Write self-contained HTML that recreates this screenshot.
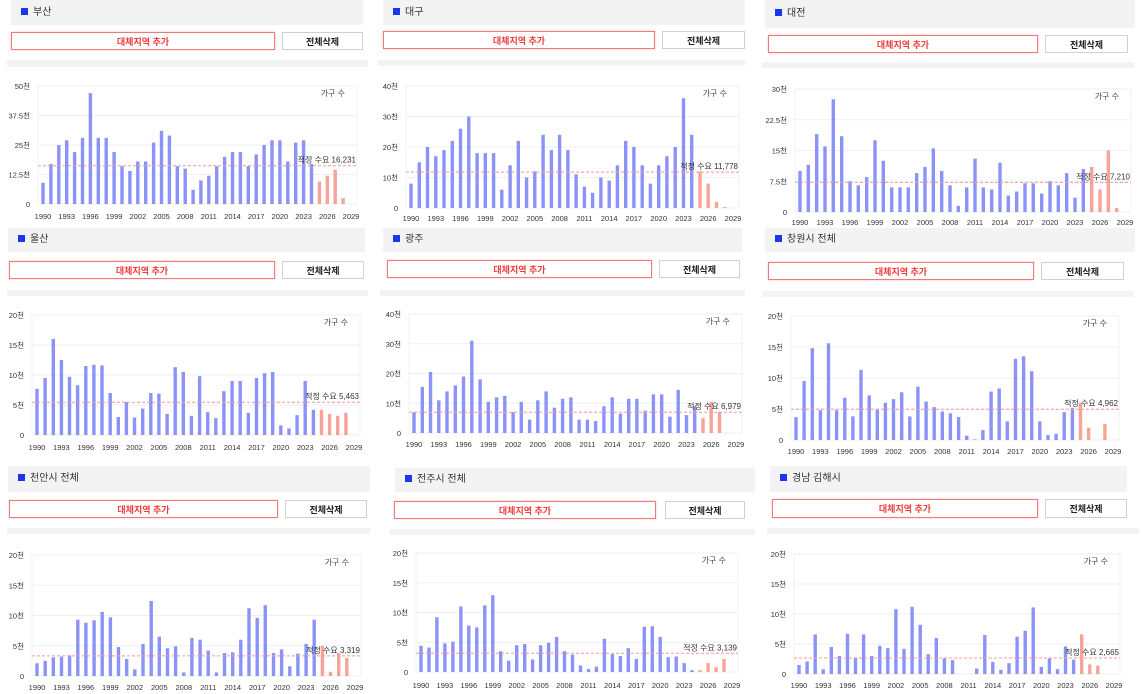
<!DOCTYPE html>
<html><head><meta charset="utf-8">
<style>
body{margin:0;width:1143px;height:694px;background:#fff;position:relative;overflow:hidden;font-family:"Liberation Sans","Noto Sans CJK KR",sans-serif;}
.hd{position:absolute;background:#f3f3f3;font-size:10px;color:#333;}
.hd span.sq{display:inline-block;width:7px;height:7px;background:#1b35f0;margin:0 5px 0 10px;vertical-align:-0px;}
.br{position:absolute;border:1.5px solid #f07a7a;box-sizing:border-box;color:#f03c3c;font-weight:bold;font-size:9px;text-align:center;background:#fff;box-shadow:0 0 2px #f9c0c0;}
.bg{position:absolute;border:1px solid #d0d0d0;box-sizing:border-box;color:#222;font-weight:bold;font-size:9px;text-align:center;background:#fff;}
.st{position:absolute;background:#f3f3f3;}
svg{position:absolute;left:0;top:0;}
</style></head><body>
<div id="root"></div>
<svg id="sv" width="1143" height="694" xmlns="http://www.w3.org/2000/svg"></svg>
<script>
var P=[
{t:"부산",h:[11,0,352,25],r:[11,32,264,18],g:[282,32,81,18],s:[7,60,361,7],x0:43,x1:351,yT:86,yB:204,ly:216,max:50,tk:["0","12.5천","25천","37.5천","50천"],ref:16.231,rl:"적정 수요 16,231",
d:[9,17,25,27,22,28,47,28,28,22,16,14,18,18,26,31,29,16,15,6,10,12,16,20,22,22,16,21,25,27,27,18,26,27,17],p:[9.5,12,14.5,2.5,0]},
{t:"대구",h:[383,0,362,25],r:[383,31,272,18],g:[662,31,83,18],s:[378,60,367,6],x0:411,x1:733,yT:86,yB:208,ly:218,max:40,tk:["0","10천","20천","30천","40천"],ref:11.778,rl:"적정 수요 11,778",
d:[8,15,20,17,19,22,26,30,18,18,18,6,14,22,10,12,24,19,24,19,11,7,5,10,9,14,22,20,14,8,14,17,20,36,24],p:[12,8,2,0.3,0]},
{t:"대전",h:[765,0,370,28],r:[768,35,270,18],g:[1045,35,83,18],s:[762,62,372,6],x0:800,x1:1125,yT:89,yB:212,ly:222,max:30,tk:["0","7.5천","15천","22.5천","30천"],ref:7.21,rl:"적정 수요 7,210",
d:[10,11.5,19,16,27.5,18.5,7.5,6.5,8.5,17.5,12.5,6,6,6,9.5,11,15.5,10,6.5,1.5,6,13,6,5.5,12,4,5,7,7,4.5,7.5,6.5,9.5,3.5,10.5],p:[11,5.5,15,1,0]},
{t:"울산",h:[8,228,357,24],r:[9,261,266,18],g:[282,261,82,18],s:[7,290,361,6],x0:37,x1:354,yT:315,yB:435,ly:447,max:20,tk:["0","5천","10천","15천","20천"],ref:5.463,rl:"적정 수요 5,463",
d:[7.7,9.5,16,12.5,9.7,8.3,11.5,11.7,11.6,7,3,5.5,2.9,4.4,7,6.9,3.5,11.3,10.5,3.2,9.8,3.8,2.8,7.3,9,9,3.7,9.5,10.3,10.5,1.6,1.1,3.3,9,4.2],p:[4.2,3.5,3.2,3.7,0]},
{t:"광주",h:[383,228,359,24],r:[387,260,265,18],g:[659,260,81,18],s:[380,290,365,6],x0:414,x1:736,yT:314,yB:433,ly:444,max:40,tk:["0","10천","20천","30천","40천"],ref:6.979,rl:"적정 수요 6,979",
d:[7,15.5,20.5,11,14,16,19,31,18,10.5,12,12.5,7,10.5,4.5,11,14,8.5,11.5,12,4.5,4.5,4,9,12,6.5,11.5,11.5,7.5,13,13,5.5,14.5,6,9],p:[5,10.5,7,0,0]},
{t:"창원시 전체",h:[765,228,370,24],r:[768,262,266,18],g:[1041,262,83,18],s:[762,291,372,6],x0:796,x1:1113,yT:316,yB:440,ly:451,max:20,tk:["0","5천","10천","15천","20천"],ref:4.962,rl:"적정 수요 4,962",
d:[3.7,9.5,14.8,4.8,15.6,4.8,6.8,3.8,11.3,7.2,4.9,6,6.6,7.7,3.8,8.6,6.2,5.3,4.6,4.3,3.7,0.7,0.1,1.6,7.8,8.3,3,13.1,13.5,11.1,3,0.8,1,4.5,5.2],p:[6,2,0,2.6,0]},
{t:"천안시 전체",h:[8,466,362,26],r:[9,500,269,18],g:[285,500,82,18],s:[7,528,363,6],x0:37,x1:355,yT:555,yB:676,ly:687,max:20,tk:["0","5천","10천","15천","20천"],ref:3.319,rl:"적정 수요 3,319",
d:[2.1,2.5,3.1,3.2,3.4,9.3,8.8,9.2,10.6,9.7,4.8,2.8,1.1,5.3,12.4,6.5,4.6,4.9,0.6,6.3,6,4.2,0.6,3.8,3.9,6,11.2,9.6,11.7,3.8,4.4,1.6,3.7,5.3,9.3],p:[5,0.7,3.8,3,0]},
{t:"전주시 전체",h:[395,468,360,24],r:[394,501,262,18],g:[665,501,80,18],s:[390,529,365,6],x0:421,x1:732,yT:553,yB:672,ly:685,max:20,tk:["0","5천","10천","15천","20천"],ref:3.139,rl:"적정 수요 3,139",
d:[4.4,4.1,9.2,4.8,5.1,11,7.8,7.5,11.2,12.9,3.5,1.9,4.5,4.7,2.1,4.5,4.9,5.9,3.5,2.9,1.1,0.5,0.9,5.6,3,2.7,4,2.2,7.6,7.7,5.9,2.5,2.6,1.5,0.3],p:[0.3,1.5,0.8,2.2,0]},
{t:"경남 김해시",h:[770,466,357,26],r:[772,499,266,19],g:[1045,499,82,19],s:[767,528,372,6],x0:799,x1:1114,yT:554,yB:674,ly:685,max:20,tk:["0","5천","10천","15천","20천"],ref:2.665,rl:"적정 수요 2,665",
d:[1.5,2.1,6.6,0.8,4.5,3,6.7,2.7,6.6,3,4.7,4.3,10.8,4.2,11.2,8.2,3.3,6,2.6,2.3,0,0,0.9,6.5,2,0.7,1.8,6.2,7.2,11.1,1.2,2.6,0.8,4.6,2.4],p:[6.6,1.6,1.4,0,0]}
];
var root=document.getElementById('root'),s='';
function box(c,a,txt,extra){return '<div class="'+c+'" style="left:'+a[0]+'px;top:'+a[1]+'px;width:'+a[2]+'px;height:'+a[3]+'px;line-height:'+a[3]+'px;'+(extra||'')+'">'+(txt||'')+'</div>';}
var html='',svg='';
P.forEach(function(q){
 html+=box('hd',q.h,'<span class="sq"></span>'+q.t);
 html+=box('br',q.r,'대체지역 추가');
 html+=box('bg',q.g,'전체삭제');
 html+=box('st',q.s,'');
 var sp=(q.x1-q.x0)/39, L=q.x0-5, R=q.x1+6, H=q.yB-q.yT;
 for(var i=0;i<5;i++){var y=q.yB-H*i/4;
  svg+='<line x1="'+L+'" x2="'+R+'" y1="'+y+'" y2="'+y+'" stroke="#efefef" stroke-width="1"/>';
  svg+='<text x="'+(L-8)+'" y="'+(y+3)+'" font-size="7.5" fill="#333" text-anchor="end">'+q.tk[i]+'</text>';}
 svg+='<line x1="'+L+'" x2="'+L+'" y1="'+q.yT+'" y2="'+q.yB+'" stroke="#f2f2f2"/>';
 svg+='<line x1="'+R+'" x2="'+R+'" y1="'+q.yT+'" y2="'+q.yB+'" stroke="#f2f2f2"/>';
 var all=q.d.concat(q.p);
 all.forEach(function(v,k){if(v<=0)return;var h=H*v/q.max;var x=q.x0+k*sp-1.7;
  svg+='<rect x="'+x.toFixed(1)+'" y="'+(q.yB-h).toFixed(1)+'" width="3.4" height="'+h.toFixed(1)+'" fill="'+(k<35?'#8b93f7':'#f6a49a')+'"/>';});
 for(var y=1990;y<=2029;y+=3){var x=q.x0+(y-1990)*sp;
  svg+='<text x="'+x.toFixed(1)+'" y="'+(q.ly+3)+'" font-size="7.5" fill="#333" text-anchor="middle">'+y+'</text>';}
 var ry=q.yB-H*q.ref/q.max;
 svg+='<line x1="'+L+'" x2="'+R+'" y1="'+ry.toFixed(1)+'" y2="'+ry.toFixed(1)+'" stroke="#f49a9a" stroke-width="1" stroke-dasharray="3,2"/>';
 svg+='<text x="'+(R-1)+'" y="'+(ry-3).toFixed(1)+'" font-size="8" fill="#333" text-anchor="end">'+q.rl+'</text>';
 svg+='<text x="'+(R-12)+'" y="'+(q.yT+10)+'" font-size="8" fill="#444" text-anchor="end">가구 수</text>';
});
root.innerHTML=html;
document.getElementById('sv').innerHTML=svg;
</script>
</body></html>
